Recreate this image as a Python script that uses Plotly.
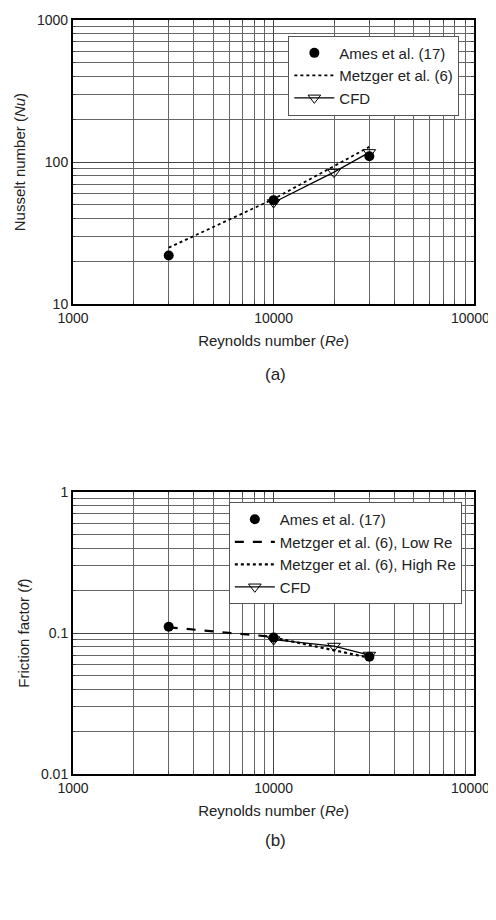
import plotly.graph_objects as go

re_ames = [3000, 10000, 30000]
nu_ames = [22, 54, 110]
re_metz = [3000, 10000, 30000]
nu_metz = [25, 55, 128]
re_cfd = [10000, 20000, 30000]
nu_cfd = [52, 85, 117]

f_ames = [0.111, 0.093, 0.068]
re_low = [3000, 10000]
f_low = [0.11, 0.094]
re_high = [10000, 30000]
f_high = [0.093, 0.067]
f_cfd = [0.09, 0.081, 0.07]

xt = [1000, 10000, 100000]
xtt = ["1000", "10000", "100000"]

fig = go.Figure()
F = "Liberation Sans, Arial"
def t(**k): fig.add_trace(go.Scatter(**k))

t(x=re_ames, y=nu_ames, mode="markers", name="Ames et al. (17)", marker=dict(color="black", size=10), xaxis="x", yaxis="y", legend="legend")
t(x=re_metz, y=nu_metz, mode="lines", name="Metzger et al. (6)", line=dict(color="black", dash="dot", width=1.8), xaxis="x", yaxis="y", legend="legend")
t(x=re_cfd, y=nu_cfd, mode="lines+markers", name="CFD", line=dict(color="black", width=1.3), marker=dict(symbol="triangle-down-open", size=11, color="black", line=dict(width=1)), xaxis="x", yaxis="y", legend="legend")

t(x=re_ames, y=f_ames, mode="markers", name="Ames et al. (17)", marker=dict(color="black", size=10), xaxis="x2", yaxis="y2", legend="legend2")
t(x=re_low, y=f_low, mode="lines", name="Metzger et al. (6), Low Re", line=dict(color="black", dash="dash", width=2.2), xaxis="x2", yaxis="y2", legend="legend2")
t(x=re_high, y=f_high, mode="lines", name="Metzger et al. (6), High Re", line=dict(color="black", dash="dot", width=2.2), xaxis="x2", yaxis="y2", legend="legend2")
t(x=re_cfd, y=f_cfd, mode="lines+markers", name="CFD", line=dict(color="black", width=1.3), marker=dict(symbol="triangle-down-open", size=11, color="black", line=dict(width=1)), xaxis="x2", yaxis="y2", legend="legend2")

def xax(dom, anchor):
    return dict(type="log", range=[3, 5], domain=dom, anchor=anchor, tickvals=xt, ticktext=xtt, automargin=False,
                showgrid=True, gridcolor="#444", gridwidth=1, ticks="inside", ticklen=6, mirror="allticks",
                showline=True, linecolor="black", linewidth=2,
                minor=dict(dtick="D1", showgrid=True, gridcolor="#666", gridwidth=0.9, ticks="inside", ticklen=3),
                title=dict(text="Reynolds number (<i>Re</i>)", font=dict(size=15, color="#222"), standoff=10),
                tickfont=dict(size=14, color="#222"), zeroline=False)

def yax(dom, anchor, rng, tv, tt, title):
    return dict(type="log", range=rng, domain=dom, anchor=anchor, tickvals=tv, ticktext=tt, automargin=False,
                showgrid=True, gridcolor="#444", gridwidth=1, ticks="inside", ticklen=6, mirror="allticks",
                showline=True, linecolor="black", linewidth=2,
                minor=dict(dtick="D1", showgrid=True, gridcolor="#666", gridwidth=0.9, ticks="inside", ticklen=3),
                title=dict(text=title, font=dict(size=15, color="#222"), standoff=8),
                tickfont=dict(size=14, color="#222"), zeroline=False)

fig.update_layout(
    width=496, height=920, margin=dict(l=0, r=0, t=0, b=0, autoexpand=False),
    paper_bgcolor="white", plot_bgcolor="white", font=dict(family=F, color="#222"),
    xaxis=xax([0.131, 0.94], "y"),
    yaxis=yax([0.678, 0.987], "x", [1, 3], [10, 100, 1000], ["10", "100", "1000"], "Nusselt number (<i>Nu</i>)"),
    xaxis2=xax([0.131, 0.94], "y2"),
    yaxis2=yax([0.167, 0.474], "x2", [-2, 0], [0.01, 0.1, 1], ["0.01", "0.1", "1"], "Friction factor (<i>f</i>)"),
    legend=dict(x=0.91, y=0.97, xanchor="right", yanchor="top", xref="paper", yref="paper",
                bgcolor="white", bordercolor="#555", borderwidth=1, font=dict(size=15), tracegroupgap=0, itemwidth=40),
    legend2=dict(x=0.915, y=0.463, xanchor="right", yanchor="top", xref="paper", yref="paper",
                 bgcolor="white", bordercolor="#555", borderwidth=1, font=dict(size=15), tracegroupgap=0, itemwidth=40),
    annotations=[
        dict(text="(a)", x=0.54, y=0.602, xref="paper", yref="paper", showarrow=False, font=dict(size=17)),
        dict(text="(b)", x=0.54, y=0.083, xref="paper", yref="paper", showarrow=False, font=dict(size=17)),
    ],
)
fig.write_html("out.html")
